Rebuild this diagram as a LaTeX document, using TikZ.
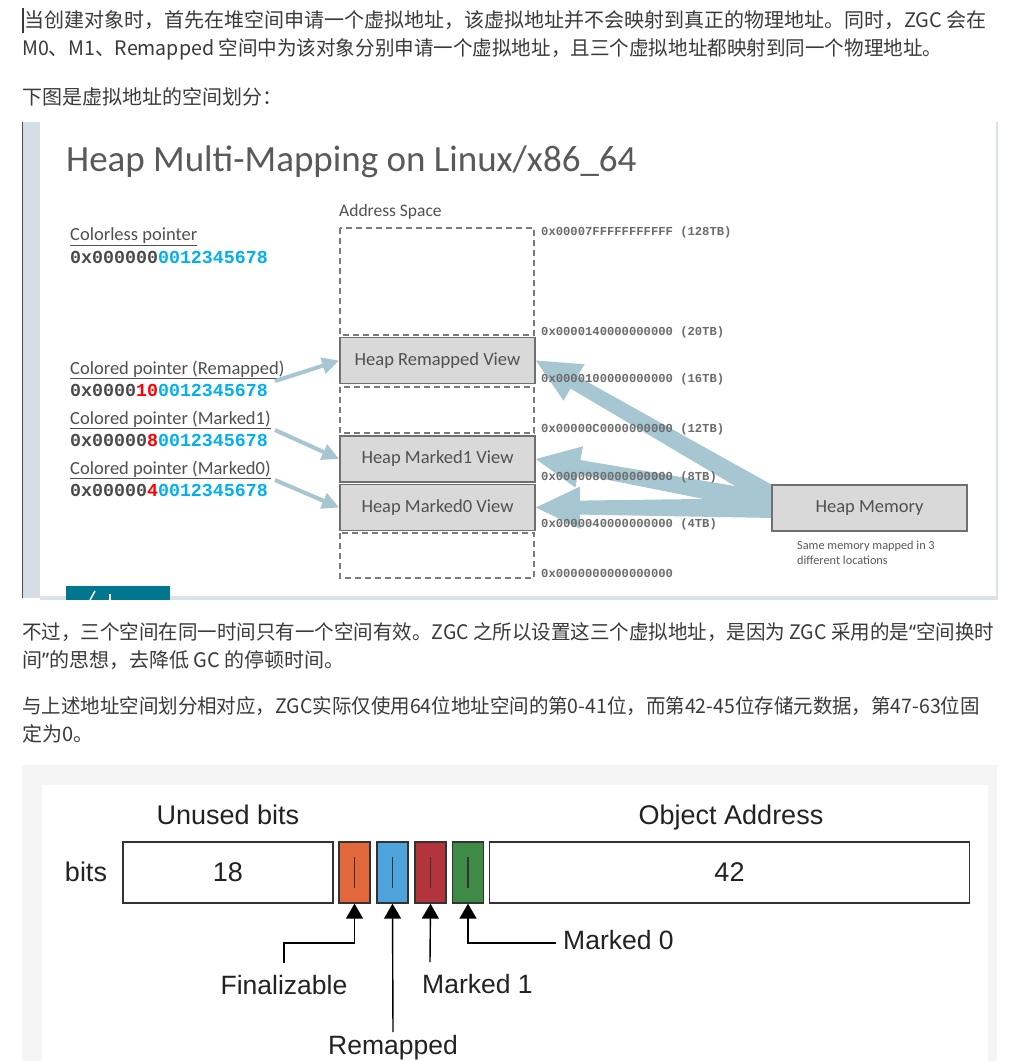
\documentclass[tikz,border=0pt]{standalone}
\usepackage{fontspec}
\usetikzlibrary{arrows.meta,calc}
\newfontfamily\cjkfont{Noto Sans CJK SC}
\newfontfamily\quotefont{Noto Sans}
\newfontfamily\calfont{Carlito}
\newfontfamily\monofont{Liberation Mono}
\newfontfamily\arlfont{Liberation Sans}
\newcommand\myLq{{\quotefont “}}
\newcommand\myRq{{\quotefont ”}}
\definecolor{txt}{HTML}{3A3A3A}
\definecolor{titlec}{HTML}{595959}
\definecolor{slidetxt}{HTML}{505050}
\definecolor{strip}{HTML}{D5DEE5}
\definecolor{panelline}{HTML}{DCE3E8}
\definecolor{viewfill}{HTML}{D9D9D9}
\definecolor{viewdraw}{HTML}{707070}
\definecolor{dashc}{HTML}{7A7A7A}
\definecolor{addrc}{HTML}{6B6B6B}
\definecolor{ptrgray}{HTML}{4A4A4A}
\definecolor{cyanc}{HTML}{00B0F0}
\definecolor{redc}{HTML}{FF0000}
\definecolor{arrowc}{HTML}{A6C7D1}
\definecolor{logoc}{HTML}{00768F}
\definecolor{notec}{HTML}{595959}
\definecolor{bggray}{HTML}{F5F5F5}
\definecolor{bitdraw}{HTML}{333333}
\definecolor{bittxt}{HTML}{222222}
\definecolor{orangec}{HTML}{E2683C}
\definecolor{bluec}{HTML}{4DA3DB}
\definecolor{redbit}{HTML}{B3343B}
\definecolor{greenc}{HTML}{3F8A47}
\newcommand\fatarrow[2]{%
  \coordinate (fa-h) at ($(#2)!44pt!(#1)$);
  \fill[arrowc] ($(#1)!10pt!90:(#2)$) -- ($(fa-h)!7pt!90:(#2)$) -- ($(fa-h)!21pt!90:(#2)$)
     -- (#2) -- ($(fa-h)!21pt!-90:(#2)$) -- ($(fa-h)!7pt!-90:(#2)$) -- ($(#1)!10pt!-90:(#2)$) -- cycle;}
\tikzset{
  para/.style={anchor=west, inner sep=0pt, text=txt, font=\cjkfont\fontsize{20}{24}\selectfont},
  slide/.style={inner sep=0pt, text=slidetxt, font=\calfont\fontsize{18.5}{22}\selectfont},
  addr/.style={anchor=west, inner sep=0pt, text=addrc, font=\monofont\bfseries\fontsize{12.2}{14}\selectfont},
  ptr/.style={anchor=west, inner sep=0pt, font=\monofont\bfseries\fontsize{18.3}{20}\selectfont},
  view/.style={draw=viewdraw, fill=viewfill, line width=1.8pt, minimum width=195pt, minimum height=46pt, inner sep=0pt, text=slidetxt, font=\calfont\fontsize{18.5}{22}\selectfont},
  dashbox/.style={draw=dashc, line width=1.3pt, dash pattern=on 6pt off 4pt},
  parrow/.style={draw=arrowc, line width=4pt, -{Triangle[length=17pt,width=16pt]}},
  bitbox/.style={draw=bitdraw, line width=1.5pt, minimum height=61pt, inner sep=0pt, font=\arlfont\fontsize{27}{30}\selectfont, text=bittxt},
  flag/.style={draw=bitdraw, line width=1.3pt, minimum width=31pt, minimum height=61pt, inner sep=0pt},
  lab/.style={inner sep=0pt, font=\arlfont\fontsize{26.5}{30}\selectfont, text=bittxt},
  barrow/.style={draw=black, line width=1.4pt, -{Triangle[length=15pt,width=17pt]}},
}
\begin{document}
\begin{tikzpicture}[x=1pt,y=-1pt]
\useasboundingbox (0,0) rectangle (1011,1061);
\fill[white] (0,0) rectangle (1011,1061);
% top paragraph
\draw[txt, line width=1.3pt] (23,8) -- (23,33);
\node[para] (t1) at (24,20) {当创建对象时，首先在堆空间申请一个虚拟地址，该虚拟地址并不会映射到真正的物理地址。同时，ZGC 会在};
\node[para] (t2) at (22,49) {\scalebox{0.978}[1]{M0、M1、Remapped 空间中为该对象分别申请一个虚拟地址，且三个虚拟地址都映射到同一个物理地址。}};
\node[para] (t3) at (22,97) {下图是虚拟地址的空间划分：};
% slide panel
\fill[strip] (22,122) rectangle (40,598);
\draw[ptrgray, line width=1.2pt] (22.6,122) -- (22.6,598);
\fill[panelline] (40,596) rectangle (998,600);
\draw[panelline, line width=1.5pt] (997,122) -- (997,598);
\fill[logoc] (66,586) rectangle (170,600);
\draw[white, line width=1.5pt] (90,600) -- (95,591);
\draw[white, line width=1.5pt] (110,600) -- (110,594);
\node[anchor=west, inner sep=0pt, text=titlec, font=\calfont\fontsize{37}{42}\selectfont] (title) at (66,162) {Heap Multi-Mapping on Linux/x86\_64};
\node[slide, anchor=west, font=\calfont\fontsize{17.5}{20}\selectfont] (as) at (339,212) {Address Space};
% address column
\draw[dashbox] (340,228) rectangle (534,335);
\node[view] (rv) at (437.5,360.5) {Heap Remapped View};
\draw[dashbox] (340,387) rectangle (534,433);
\node[view] (mk1) at (437.5,459) {Heap Marked1 View};
\node[view] (mk0) at (437.5,507.5) {Heap Marked0 View};
\draw[dashbox] (340,533) rectangle (534,578);
% big arrows
\coordinate (b1) at ([yshift=10pt]775,508);
\coordinate (b2) at ([yshift=5pt]775,508);
\coordinate (b3) at (775,508);
\fatarrow{b1}{rv.east}
\fatarrow{b2}{mk1.east}
\fatarrow{b3}{mk0.east}
\node[view] (hm) at (869.5,508) {Heap Memory};
\node[anchor=north west, inner sep=0pt, align=left, text=notec, font=\calfont\fontsize{12.3}{14.5}\selectfont] (note) at (797,541) {Same memory mapped in 3\\different locations};
% addresses
\node[addr] (ad1) at (541,232) {0x00007FFFFFFFFFFF (128TB)};
\node[addr] (ad2) at (541,332) {0x0000140000000000 (20TB)};
\node[addr] (ad3) at (541,379) {0x0000100000000000 (16TB)};
\node[addr] (ad4) at (541,429) {0x00000C0000000000 (12TB)};
\node[addr] (ad5) at (541,477) {0x0000080000000000 (8TB)};
\node[addr] (ad6) at (541,524) {0x0000040000000000 (4TB)};
\node[addr] (ad7) at (541,573) {0x0000000000000000};
% pointers
\node[slide, anchor=west] (p0) at (70,237) {\underline{Colorless pointer}};
\node[ptr] (v0) at (70,257) {\textcolor{ptrgray}{0x000000}\textcolor{cyanc}{0012345678}};
\node[slide, anchor=west] (p1) at (70,370) {\underline{Colored pointer (Remapped)}};
\node[ptr] (v1) at (70,390) {\textcolor{ptrgray}{0x0000}\textcolor{redc}{10}\textcolor{cyanc}{0012345678}};
\node[slide, anchor=west] (p2) at (70,420) {\underline{Colored pointer (Marked1)}};
\node[ptr] (v2) at (70,440) {\textcolor{ptrgray}{0x00000}\textcolor{redc}{8}\textcolor{cyanc}{0012345678}};
\node[slide, anchor=west] (p3) at (70,470) {\underline{Colored pointer (Marked0)}};
\node[ptr] (v3) at (70,490) {\textcolor{ptrgray}{0x00000}\textcolor{redc}{4}\textcolor{cyanc}{0012345678}};
\coordinate (a1) at (275,381);
\coordinate (a2) at (275,430);
\coordinate (a3) at (275,480);
\draw[parrow] (a1) -- (rv.west);
\draw[parrow] (a2) -- (mk1.west);
\draw[parrow] (a3) -- (mk0.west);
% lower paragraph
\node[para] (t4) at (22,632) {\scalebox{0.975}[1]{不过，三个空间在同一时间只有一个空间有效。ZGC 之所以设置这三个虚拟地址，是因为 ZGC 采用的是\myLq 空间换时}};
\node[para] (t5) at (22,660) {间\myRq 的思想，去降低 GC 的停顿时间。};
\node[para] (t6) at (22,706) {\scalebox{0.974}[1]{与上述地址空间划分相对应，ZGC实际仅使用64位地址空间的第0-41位，而第42-45位存储元数据，第47-63位固}};
\node[para] (t7) at (22,734) {定为0。};
% bits diagram
\fill[bggray] (22,765) rectangle (997,1061);
\fill[white] (42,785) rectangle (988,1061);
\node[lab, font=\arlfont\fontsize{27}{30}\selectfont] (ub) at (228,815) {Unused bits};
\node[lab, font=\arlfont\fontsize{27}{30}\selectfont] (oa) at (731,818) {Object Address};
\node[lab, font=\arlfont\fontsize{27}{30}\selectfont] (bl) at (86,872) {bits};
\node[bitbox, minimum width=210pt] (b18) at (228,872.5) {18};
\node[flag, fill=orangec] (fo) at (354.5,872.5) {};
\node[flag, fill=bluec] (fb) at (392.5,872.5) {};
\node[flag, fill=redbit] (fr) at (430.5,872.5) {};
\node[flag, fill=greenc] (fg) at (468,872.5) {};
\foreach \f in {fo,fb,fr,fg} \draw[bitdraw, line width=1.3pt] ([yshift=15.5pt]\f.center) -- ([yshift=-15.5pt]\f.center);
\node[bitbox, minimum width=480pt] (b42) at (729.5,872.5) {42};
\node[lab] (fin) at (284,985) {Finalizable};
\node[lab, anchor=north] (rem) at (393,1035) {Remapped};
\node[lab, anchor=north west] (mk1l) at (422,974) {Marked 1};
\node[lab, anchor=west] (mk0l) at (563,940) {Marked 0};
\draw[barrow] ([yshift=12pt]fin.north) -- ++(0,-20) -| (fo.south);
\draw[barrow] ([yshift=3pt]rem.north) -- (fb.south);
\draw[barrow] ([xshift=8pt,yshift=12pt]mk1l.north west) -- (fr.south);
\draw[barrow] ([xshift=-7pt,yshift=-3pt]mk0l.west) -| (fg.south);
\end{tikzpicture}
\end{document}
